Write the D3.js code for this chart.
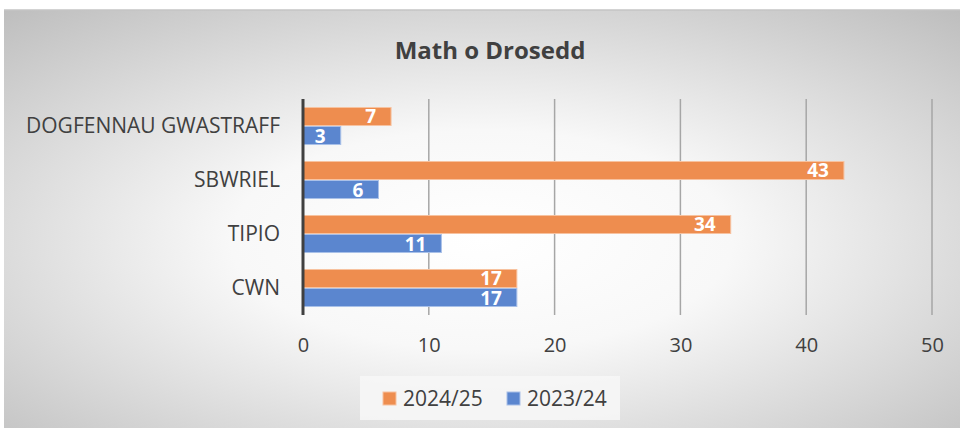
<!DOCTYPE html>
<html><head><meta charset="utf-8">
<script src="https://cdn.jsdelivr.net/npm/d3@7/dist/d3.min.js"></script>
<style>html,body{margin:0;padding:0;background:#fff;}svg{display:block;}</style>
</head><body>
<script>
const categories = ["DOGFENNAU GWASTRAFF", "SBWRIEL", "TIPIO", "CWN"];
const seriesNames = ["2024/25", "2023/24"];
const values2024 = [7, 43, 34, 17];
const values2023 = [3, 6, 11, 17];
const xTicks = [0, 10, 20, 30, 40, 50];
const title = "Math o Drosedd";

const W = 960, H = 430;
const FONT = "'Open Sans', 'Noto Sans', sans-serif";
const colors = {"2024/25": "#EE8D4F", "2023/24": "#5B86CF"};
const strokes = {"2024/25": "#F7C2A0", "2023/24": "#A9C0E8"};

const svg = d3.select("body").append("svg").attr("width", W).attr("height", H);
const defs = svg.append("defs");
const rg = defs.append("radialGradient").attr("id", "bg")
  .attr("cx", "50%").attr("cy", "55%").attr("r", "75%");
rg.append("stop").attr("offset", "0%").attr("stop-color", "#ffffff");
rg.append("stop").attr("offset", "35%").attr("stop-color", "#f8f8f8");
rg.append("stop").attr("offset", "100%").attr("stop-color", "#bdbdbd");

svg.append("rect").attr("x", 4).attr("y", 10).attr("width", W - 4).attr("height", H - 12)
  .attr("fill", "url(#bg)");
svg.append("line").attr("x1", 4).attr("x2", W).attr("y1", 10).attr("y2", 10)
  .attr("stroke", "#c4c4c4").attr("stroke-width", 1.5);

const x = d3.scaleLinear().domain([0, 50]).range([303, 932]);
const y0 = d3.scaleBand().domain(categories).range([99, 315]).paddingInner(0.296).paddingOuter(0.148);
const y1 = d3.scaleBand().domain(seriesNames).range([0, y0.bandwidth()]);

// gridlines
svg.append("g").selectAll("line").data(xTicks.slice(1)).join("line")
  .attr("x1", d => x(d)).attr("x2", d => x(d)).attr("y1", 99).attr("y2", 315)
  .attr("stroke", "#a6a6a6").attr("stroke-width", 1.5);

// tick labels via axis
const ax = svg.append("g").attr("transform", "translate(0,315)")
  .call(d3.axisBottom(x).tickValues(xTicks).tickSize(0).tickPadding(23));
ax.select(".domain").remove();
ax.selectAll("text").attr("font-family", FONT)
  .attr("font-size", 20).attr("fill", "#404040");

// category labels
const ay = svg.append("g").attr("transform", "translate(303,0)")
  .call(d3.axisLeft(y0).tickSize(0).tickPadding(23));
ay.select(".domain").remove();
ay.selectAll("text").attr("font-family", FONT)
  .attr("font-size", 21).attr("fill", "#404040");

// bars
const data = [];
categories.forEach((c, i) => {
  data.push({cat: c, s: "2024/25", v: values2024[i]});
  data.push({cat: c, s: "2023/24", v: values2023[i]});
});
const bars = svg.append("g");
bars.selectAll("rect").data(data).join("rect")
  .attr("x", x(0)).attr("y", d => y0(d.cat) + y1(d.s) + 0.5)
  .attr("width", d => x(d.v) - x(0)).attr("height", y1.bandwidth() - 1)
  .attr("fill", d => colors[d.s]).attr("stroke", d => strokes[d.s]).attr("stroke-width", 1);

bars.selectAll("text").data(data).join("text")
  .attr("x", d => x(d.v) - 15).attr("y", d => y0(d.cat) + y1(d.s) + y1.bandwidth() / 2 + 7)
  .attr("text-anchor", "end")
  .attr("font-family", FONT).attr("font-weight", "bold")
  .attr("font-size", 19).attr("fill", "#ffffff").text(d => d.v);

// vertical axis line
svg.append("line").attr("x1", x(0)).attr("x2", x(0)).attr("y1", 99).attr("y2", 315)
  .attr("stroke", "#404040").attr("stroke-width", 3);

// title
svg.append("text").attr("x", 490).attr("y", 59).attr("text-anchor", "middle")
  .attr("font-family", FONT).attr("font-weight", "bold")
  .attr("font-size", 24).attr("fill", "#404040").text(title);

// legend
const lg = svg.append("g");
lg.append("rect").attr("x", 360).attr("y", 376).attr("width", 260).attr("height", 44)
  .attr("fill", "#f6f6f6").attr("opacity", 0.9);
const legX = [383, 507];
seriesNames.forEach((s, i) => {
  lg.append("rect").attr("x", legX[i]).attr("y", 392).attr("width", 13).attr("height", 13)
    .attr("fill", colors[s]).attr("stroke", strokes[s]);
  lg.append("text").attr("x", legX[i] + 20).attr("y", 406)
    .attr("font-family", FONT).attr("font-size", 21)
    .attr("fill", "#404040").text(s);
});
</script>
</body></html>
